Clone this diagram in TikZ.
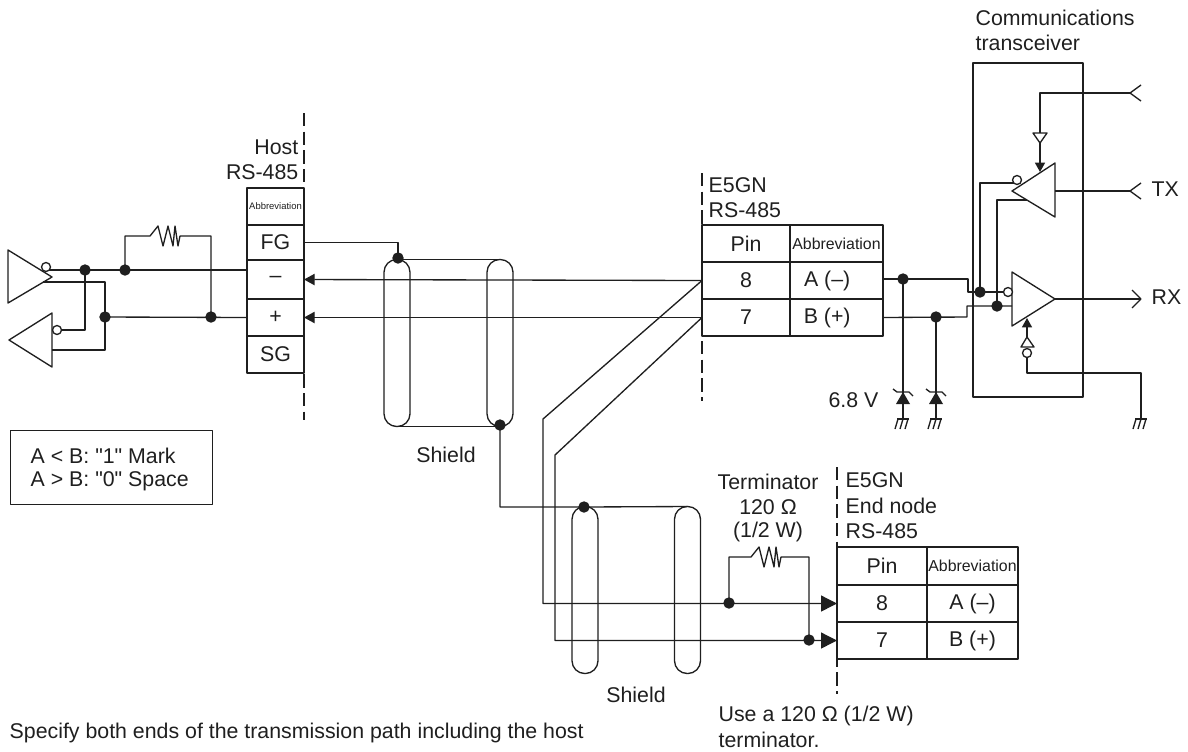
\documentclass[tikz,border=0pt]{standalone}
\usepackage{fontspec}
\setmainfont{Liberation Sans}[Ligatures=TeXOff]
\usetikzlibrary{arrows.meta}
\begin{document}
\begin{tikzpicture}[x=0.75pt,y=-0.75pt,>={Triangle[length=8pt,width=8.5pt]}, font=\fontsize{16}{19}\selectfont, line join=round, line width=1pt, color=black!88,
	cell/.style 2 args={draw, inner sep=0pt, outer sep=0pt, anchor=north west, minimum width=#1*0.75pt, minimum height=#2*0.75pt},
	txt/.style={inner sep=0pt, anchor=west},
	abbr/.style={font=\fontsize{#1}{#1}\selectfont},
	oval/.style={draw, inner sep=0pt, outer sep=0pt, rounded corners=9.5pt, minimum width=26*0.75pt, minimum height=167*0.75pt},
	cut/.style={dash pattern=on 10pt off 4pt},
	bigtip/.style={-{Triangle[length=12pt,width=12pt]}},
	tiny tip/.style={-{Triangle[length=7pt,width=7.5pt]}}]
			\def\dotat#1{\draw[fill=black!88] (#1) circle (5);}
			\def\bubble#1{\draw[fill=white] (#1) circle (4.5);}
			\def\gnd#1{\draw (#1) ++(-6,0) -- ++(12,0); \foreach \d in {-5,0,5} \draw (#1) ++(\d,0) -- ++(-3,10);}
			\def\zener#1{\fill (#1) -- ++(7,12) -- ++(-14,0) -- cycle; \draw (#1) ++(-10,-3) -- ++(4,3) -- ++(12,0) -- ++(4,4);}
			\def\wiggle{-- ++(8,-10) -- ++(5,20) -- ++(5,-20) -- ++(5,20) -- ++(2,-20) -- ++(3,20) -- ++(2,-10)}
			\def\chevron#1{\draw (#1) ++(11,-8) -- ++(-11,8) -- ++(11,8);}

			\useasboundingbox (0,0) rectangle (1188,751);

			% cut lines
			\draw[cut] (304,113)--(304,420);
			\draw[cut] (702,173)--(702,401);
			\draw[cut] (837,467)--(837,694);

			% host table
			\node[cell={57}{37}, abbr=7.1] (hostAbbr) at (247,188) {Abbreviation};
			\node[cell={57}{35}] (hostFG) at (247,225) {FG};
			\node[cell={57}{39}] (hostMinus) at (247,260) {–};
			\node[cell={57}{37}] (hostPlus) at (247,299) {+};
			\node[cell={57}{37}] (hostSG) at (247,336) {SG};

			% E5GN table
			\node[cell={88}{37}] (midPin) at (702,225) {Pin};
			\node[cell={93}{37}, abbr=11.9] (midAbbr) at (790,225) {Abbreviation};
			\node[cell={88}{37}] (midEight) at (702,262) {8};
			\node[cell={93}{37}] (midA) at (790,262) {\hspace*{-14pt}A (–)};
			\node[cell={88}{37}] (midSeven) at (702,299) {7};
			\node[cell={93}{37}] (midB) at (790,299) {\hspace*{-14pt}B (+)};

			% end node table
			\node[cell={90}{38}] (endPin) at (837,547) {Pin};
			\node[cell={91}{38}, abbr=11.9] (endAbbr) at (927,547) {Abbreviation};
			\node[cell={90}{37}] (endEight) at (837,585) {8};
			\node[cell={91}{37}] (endA) at (927,585) {A (–)};
			\node[cell={90}{37}] (endSeven) at (837,622) {7};
			\node[cell={91}{37}] (endB) at (927,622) {B (+)};

			% host drivers
			\draw (8,250)--(52,277)--(8,303)--cycle;
			\draw (9,340)--(52,313)--(52,367)--cycle;
			\coordinate (bubA) at (46,267);
			\coordinate (bubB) at (57,330);
			\coordinate (nodeA) at (85,270);
			\coordinate (nodeR) at (125,270);
			\coordinate (nodeB) at (105,317);
			\coordinate (nodeS) at (211,317);
			\draw (bubA |- nodeA) -- (hostMinus.west |- nodeA);
			\draw (nodeB) -- (hostPlus.west);
			\draw (bubB) -| (nodeA);
			\draw (43,282) -| (105,350) -- (52,350);
			\draw (nodeR) |- (150,236) \wiggle -- ++(7,0) -| (nodeS);
			\bubble{bubA} \bubble{bubB}
			\foreach \n in {nodeA,nodeR,nodeB,nodeS} {\dotat{\n}}

			% first cable
			\node[oval] (shieldAl) at (397,343) {};
			\node[oval] (shieldAr) at (500,343) {};
			\coordinate (fgDot) at (398,258);
			\coordinate (shieldOut) at (500,425);
			\draw (hostFG.east) -| (fgDot);
			\draw (shieldAl.north) -- (shieldAr.north);
			\draw (shieldAl.south) -- (shieldAr.south);
			\draw[->] (midEight.west) -- (hostMinus.east);
			\draw[->] (midSeven.west) -- (hostPlus.east);
			\dotat{fgDot} \dotat{shieldOut}

			% second cable
			\node[oval] (shieldBl) at (585,590) {};
			\node[oval] (shieldBr) at (687.5,590) {};
			\coordinate (shieldIn) at (584,507);
			\draw (shieldOut) |- (shieldIn) -- (shieldBr.north);
			\coordinate (nodeT) at (729,603);
			\coordinate (nodeU) at (809,640);
			\draw[bigtip] (midEight.west) -- (543,419) |- (endEight.west);
			\draw[bigtip] (midSeven.west) -- (555,455) |- (endSeven.west);
			\draw (nodeT) |- (751,557) \wiggle -| (nodeU);
			\foreach \n in {shieldIn,nodeT,nodeU} {\dotat{\n}}

			% line to transceiver
			\node[draw, inner sep=0pt, outer sep=0pt, minimum width=110*0.75pt, minimum height=334*0.75pt] (xcvr) at (1028,230) {};
			\coordinate (nodeC) at (903,279);
			\coordinate (nodeD) at (936,317);
			\coordinate (nodeE) at (980,292);
			\coordinate (nodeF) at (997,306);
			\coordinate (zenC) at (903,392);
			\coordinate (zenD) at (936,392);
			\coordinate (gndC) at (903,419);
			\coordinate (gndD) at (936,419);
			\draw (midA.east |- nodeC) -- (968,279) -- (968,292) -- (1008,292);
			\draw (midB.east) -- (967,317) -- (967,306) -- (1012,306);
			\draw (nodeC) -- (gndC);
			\draw (nodeD) -- (gndD);
			\zener{zenC} \zener{zenD}
			\gnd{gndC} \gnd{gndD}

			% receiver
			\coordinate (rxOut) at (1141,299);
			\draw (1012,272)--(1055,299)--(1012,326)--cycle;
			\draw (1055,299) -- (rxOut);
			\draw (rxOut) ++(-9,-9) -- ++(9,9) -- ++(-9,9);
			\coordinate (gndR) at (1141,419);
			\draw (gndR) |- (1027,373) -- (1027,353);
			\draw[tiny tip] (1027,337) -- (1027,318);
			\draw[fill=white] (1027,337)--(1034,347)--(1021,347)--cycle;
			\bubble{1027,353}
			\gnd{gndR}
			\bubble{1008,292}

			% transmitter
			\coordinate (txOut) at (1130,191);
			\coordinate (enOut) at (1130,93);
			\draw (1012,191)--(1055,163)--(1055,217)--cycle;
			\draw (1055,191) -- (txOut);
			\chevron{txOut}
			\chevron{enOut}
			\draw (enOut) -| (1040,143);
			\draw[tiny tip] (1040,143) -- (1040,172);
			\draw[fill=white] (1033,133)--(1047,133)--(1040,143)--cycle;
			\draw (1015,183) -| (nodeE);
			\draw (1027,200) -| (nodeF);
			\bubble{1017,180}
			\dotat{nodeE} \dotat{nodeF}
			\dotat{nodeC} \dotat{nodeD}

			% labels
			\node[inner sep=0pt, anchor=east] (hostLbl) at (299,147) {Host};
			\node[inner sep=0pt, anchor=east] (hostBus) at (299,172) {RS-485};
			\node[txt] (midLbl) at (708,185) {E5GN};
			\node[txt] (midBus) at (708,210) {RS-485};
			\node[txt] (commA) at (975,18) {Communications};
			\node[txt] (commB) at (975,43) {transceiver};
			\node[txt] (txLbl) at (1151,189) {TX};
			\node[txt] (rxLbl) at (1151,297) {RX};
			\node[inner sep=0pt, anchor=east] (voltLbl) at (879,400) {6.8 V};
			\node[inner sep=0pt] (shieldLblA) at (446,455) {Shield};
			\node[inner sep=0pt] (shieldLblB) at (636,695) {Shield};
			\node[inner sep=0pt] (termA) at (768,482) {Terminator};
			\node[inner sep=0pt] (termB) at (768,507) {120 Ω};
			\node[inner sep=0pt] (termC) at (768,532) {(1/2 W)};
			\node[txt] (endLblA) at (845,480) {E5GN};
			\node[txt] (endLblB) at (845,506) {End node};
			\node[txt] (endLblC) at (845,531) {RS-485};
			\node[txt] (useA) at (718,716) {Use a 120 Ω (1/2 W)};
			\node[txt] (useB) at (718,740) {terminator.};
			\node[txt] (specify) at (9,733) {Specify both ends of the transmission path including the host};
			\node[draw, line width=0.5pt, inner sep=0pt, outer sep=0pt, minimum width=202*0.75pt, minimum height=74*0.75pt] (legend) at (111.5,467) {};
			\node[txt] (legA) at (30,456) {A < B: "1" Mark};
			\node[txt] (legB) at (30,481) {A > B: "0" Space};
	\end{tikzpicture}
\end{document}
